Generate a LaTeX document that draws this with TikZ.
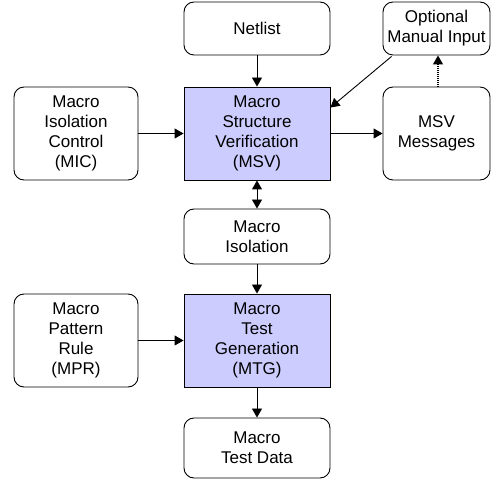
\documentclass[tikz,border=0pt]{standalone}
\usepackage{fontspec}
\setmainfont{Liberation Sans}
\usetikzlibrary{arrows.meta,calc}
\definecolor{procfill}{RGB}{204,204,255}
\begin{document}
\begin{tikzpicture}[x=1pt,y=-1pt,
  box/.style={draw, line width=0.9pt, rounded corners=10pt, align=center,
    font=\fontsize{17}{20}\selectfont, inner sep=0pt},
  proc/.style={draw, line width=0.9pt, fill=procfill, align=center,
    font=\fontsize{17}{20}\selectfont, inner sep=0pt},
  arr/.style={-{Triangle[length=9pt,width=10pt]}, line width=0.9pt},
  darr/.style={{Triangle[length=9pt,width=10pt]}-{Triangle[length=9pt,width=10pt]}, line width=0.9pt},
  dotarr/.style={-{Triangle[length=9pt,width=10pt]}, line width=1.1pt, dash pattern=on 1pt off 1pt}]
\useasboundingbox (0,0) rectangle (491,481);
\node[box, minimum width=146pt, minimum height=53pt] (net) at (257,28.5) {Netlist};
\node[box, minimum width=107pt, minimum height=53pt] (opt) at (436.5,28.5) {Optional\\Manual Input};
\node[box, minimum width=124pt, minimum height=93pt] (mic) at (76,133.5) {Macro\\Isolation\\Control\\(MIC)};
\node[proc, minimum width=146pt, minimum height=93pt] (msv) at (257,133.5) {Macro\\Structure\\Verification\\(MSV)};
\node[box, minimum width=107pt, minimum height=93pt] (msg) at (436.5,133.5) {MSV\\Messages};
\node[box, minimum width=146pt, minimum height=55pt] (iso) at (257,236.5) {Macro\\Isolation};
\node[box, minimum width=124pt, minimum height=93pt] (mpr) at (76,340.5) {Macro\\Pattern\\Rule\\(MPR)};
\node[proc, minimum width=146pt, minimum height=93pt] (mtg) at (257,340.5) {Macro\\Test\\Generation\\(MTG)};
\node[box, minimum width=146pt, minimum height=60pt] (data) at (257,448) {Macro\\Test Data};
\draw[arr] (net.south) -- (msv.north);
\draw[arr] ($(opt.south west)+(9,1)$) -- ($(msv.north east)+(0,21)$);
\draw[dotarr] ($(msg.north)+(1.5,0)$) -- ($(opt.south)+(1.5,0)$);
\draw[arr] (mic.east) -- (msv.west);
\draw[arr] (msv.east) -- (msg.west);
\draw[darr] (msv.south) -- (iso.north);
\draw[arr] (iso.south) -- (mtg.north);
\draw[arr] (mpr.east) -- (mtg.west);
\draw[arr] (mtg.south) -- (data.north);
\end{tikzpicture}
\end{document}
